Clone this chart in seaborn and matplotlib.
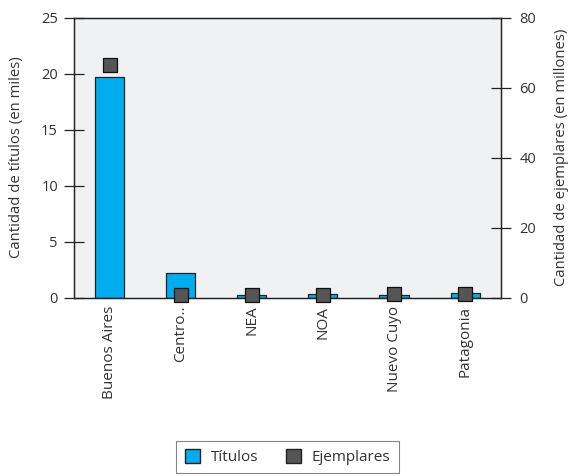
import matplotlib
matplotlib.use("Agg")
import matplotlib.pyplot as plt
from matplotlib.patches import Patch
import seaborn as sns
import pandas as pd

regiones = ["Buenos Aires", "Centro..", "NEA", "NOA", "Nuevo Cuyo", "Patagonia"]
titulos = [19.7, 2.2, 0.2, 0.35, 0.2, 0.38]          # miles de títulos
ejemplares = [66.5, 0.6, 0.6, 0.6, 1.1, 1.1]         # millones de ejemplares

df = pd.DataFrame({"region": regiones, "titulos": titulos, "ejemplares": ejemplares})

sns.set_theme(style="white")
plt.rcParams["font.family"] = ["Open Sans", "DejaVu Sans"]
text_color = "#333333"
bar_color = "#00AEEF"
mark_color = "#555555"

fig = plt.figure(figsize=(5.69, 4.76), dpi=100)
ax = fig.add_axes([0.130, 0.375, 0.750, 0.588])
ax.set_facecolor("#F0F1F3")

sns.barplot(data=df, x="region", y="titulos", ax=ax, color=bar_color,
            width=0.41, edgecolor="#222222", linewidth=0.9, saturation=1)
ax.set_ylim(0, 25)
ax.set_xlim(-0.5, len(regiones) - 0.5)
ax.set_yticks([0, 5, 10, 15, 20, 25])
ax.set_ylabel("Cantidad de títulos (en miles)", fontsize=10.7, color=text_color, labelpad=12)
ax.set_xlabel("")

ax2 = ax.twinx()
sns.scatterplot(data=df, x="region", y="ejemplares", ax=ax2, marker="s", s=105,
                color=mark_color, edgecolor="#111111", linewidth=0.9, zorder=5,
                legend=False, clip_on=False)
ax2.set_ylim(0, 80)
ax2.set_yticks([0, 20, 40, 60, 80])
ax2.set_ylabel("Cantidad de ejemplares (en millones)", fontsize=10.7, color=text_color,
               labelpad=13)
ax2.set_xlim(-0.5, len(regiones) - 0.5)

# category separators as bottom ticks
ax.set_xticks([i - 0.5 for i in range(len(regiones) + 1)], minor=False)
ax.set_xticklabels([""] * (len(regiones) + 1))
ax.set_xticks(range(len(regiones)), minor=True)
ax.set_xticklabels(regiones, minor=True, rotation=90, fontsize=11, color=text_color)
ax.tick_params(axis="x", which="major", direction="out", length=5, width=0.9, color="#222222")
ax.tick_params(axis="x", which="minor", length=0, pad=6)

ax.tick_params(axis="y", direction="inout", length=15, width=0.9, color="#222222",
               labelsize=10.5, labelcolor=text_color, pad=4, left=True)
ax2.tick_params(axis="y", direction="inout", length=15, width=0.9, color="#222222",
                labelsize=10.5, labelcolor=text_color, pad=6, right=True)

for a in (ax, ax2):
    for s in a.spines.values():
        s.set_visible(True)
        s.set_color("#222222")
        s.set_linewidth(0.9)

handles = [
    Patch(facecolor=bar_color, edgecolor="#222222", label="Títulos"),
    Patch(facecolor=mark_color, edgecolor="#222222", label="Ejemplares"),
]
leg = fig.legend(handles=handles, loc="center", bbox_to_anchor=(0.505, 0.040), ncol=2,
                 frameon=True, fancybox=False, fontsize=11, handlelength=1.0,
                 handleheight=1.0, handletextpad=0.7, columnspacing=1.8,
                 borderpad=0.55, borderaxespad=0)
leg.get_frame().set_edgecolor("#666666")
leg.get_frame().set_linewidth(0.8)
for t in leg.get_texts():
    t.set_color(text_color)

fig.savefig("out.png", dpi=100, facecolor="white")
